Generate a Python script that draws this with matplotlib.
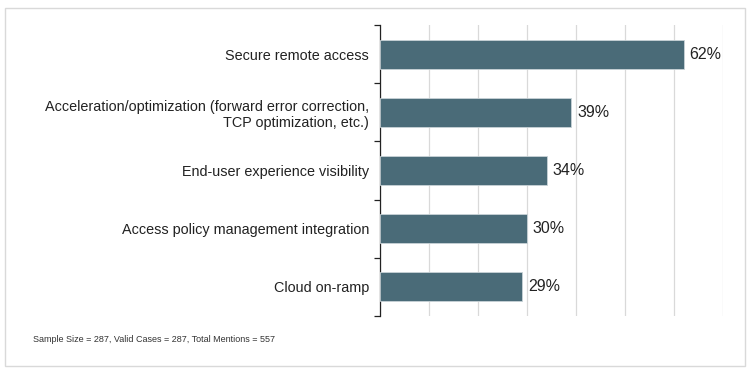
import numpy as np
import matplotlib.pyplot as plt
from matplotlib.patches import Rectangle

# data
categories = [
    "Secure remote access",
    "Acceleration/optimization (forward error correction,\nTCP optimization, etc.)",
    "End-user experience visibility",
    "Access policy management integration",
    "Cloud on-ramp",
]
values = [62, 39, 34, 30, 29]
note = "Sample Size = 287, Valid Cases = 287, Total Mentions = 557"

plt.rcParams['font.family'] = ['Liberation Sans', 'DejaVu Sans']

fig = plt.figure(figsize=(7.54, 3.71), dpi=100)
# light frame around the whole chart
fig.patches.append(Rectangle((5 / 754, 1 - 366 / 371), 740 / 754, 358 / 371,
                             transform=fig.transFigure, fill=False,
                             edgecolor='#d9d9d9', linewidth=1))

ax = fig.add_axes([380 / 754, 1 - 316 / 371, 343 / 754, 291 / 371])

y = np.arange(len(categories))
ax.barh(y, values, height=0.5, color='#4a6b78', edgecolor='#c9d3d7',
        linewidth=0.6, zorder=3)
for yi, v in zip(y, values):
    ax.text(v + 1.2, yi, f"{v}%", va='center', ha='left', fontsize=11.5,
            color='#222222')

ax.set_xlim(0, 70)
ax.set_ylim(len(categories) - 0.5, -0.5)
ax.set_xticks(np.arange(0, 71, 10))
ax.xaxis.grid(True, color='#d9d9d9', linewidth=0.9, zorder=0)
ax.tick_params(axis='x', length=0, labelbottom=False)

# category labels, ticks on the boundaries
ax.set_yticks(y)
ax.set_yticklabels(categories, fontsize=10.4, color='#222222', ha='right')
ax.tick_params(axis='y', which='major', length=0, pad=8)
ax.set_yticks(np.arange(-0.5, len(categories)), minor=True)
ax.tick_params(axis='y', which='minor', length=4, width=0.9, color='#222222')

for s in ['top', 'right', 'bottom']:
    ax.spines[s].set_visible(False)
ax.spines['left'].set_color('#222222')
ax.spines['left'].set_linewidth(0.9)

fig.text(33 / 754, 1 - 339 / 371, note, fontsize=6.5, color='#333333',
         va='center', ha='left')

fig.savefig("out.png", dpi=100)
